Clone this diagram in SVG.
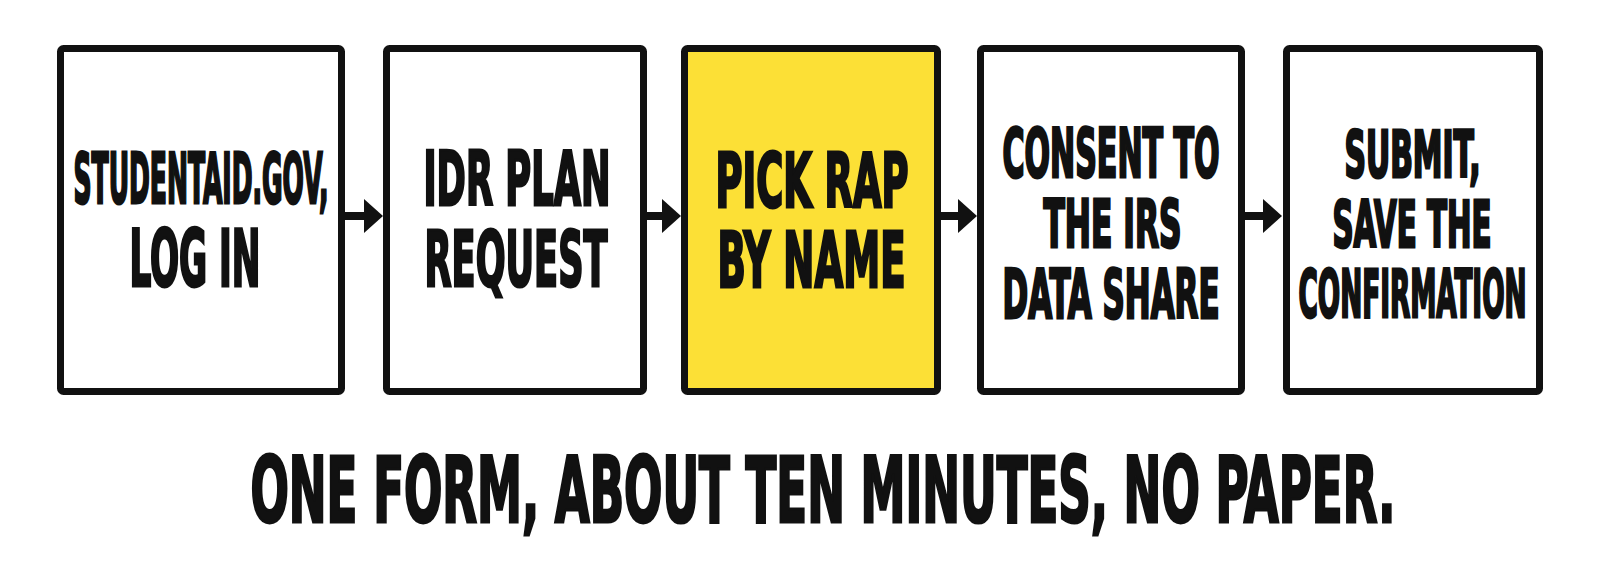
<svg xmlns="http://www.w3.org/2000/svg" width="1600" height="579" viewBox="0 0 1600 579">
  <defs>
    <style>
      .box { fill: #ffffff; stroke: #111111; stroke-width: 7; }
      .hl { fill: #FCE036; }
      .t { font-family: "Liberation Sans Narrow", "DejaVu Sans Condensed", "DejaVu Sans", "Liberation Sans", sans-serif; font-weight: bold; font-stretch: condensed; fill: #111111; stroke: #111111; stroke-width: 3; stroke-linejoin: miter; }
      .conn { stroke: #111111; stroke-width: 8; fill: none; }
    </style>
    <marker id="head" markerUnits="userSpaceOnUse" markerWidth="20" markerHeight="36" refX="1" refY="17" orient="auto" viewBox="0 0 20 34">
      <path d="M0,0 L19,17 L0,34 Z" fill="#111111"/>
    </marker>
  </defs>
  <rect width="1600" height="579" fill="#ffffff"/>

  <g id="connectors">
    <line class="conn" x1="345" y1="216" x2="365" y2="216" marker-end="url(#head)"/>
    <line class="conn" x1="647" y1="216" x2="663" y2="216" marker-end="url(#head)"/>
    <line class="conn" x1="941" y1="216" x2="959" y2="216" marker-end="url(#head)"/>
    <line class="conn" x1="1245" y1="216" x2="1264" y2="216" marker-end="url(#head)"/>
  </g>

  <g id="step1">
    <rect class="box" x="60.5" y="48.5" width="281" height="343" rx="3"/>
    <text class="t" x="73.5" y="202.5" font-size="70" textLength="255" lengthAdjust="spacingAndGlyphs">STUDENTAID.GOV,</text>
    <text class="t" x="129.5" y="285.5" font-size="78.2" textLength="131" lengthAdjust="spacingAndGlyphs">LOG IN</text>
  </g>

  <g id="step2">
    <rect class="box" x="386.5" y="48.5" width="257" height="343" rx="3"/>
    <text class="t" x="423.5" y="204.5" font-size="75" textLength="187" lengthAdjust="spacingAndGlyphs">IDR PLAN</text>
    <text class="t" x="424.5" y="285.5" font-size="76.8" textLength="183" lengthAdjust="spacingAndGlyphs">REQUEST</text>
  </g>

  <g id="step3">
    <rect class="box hl" x="684.5" y="48.5" width="253" height="343" rx="3"/>
    <text class="t" x="715.5" y="206.5" font-size="74" textLength="193" lengthAdjust="spacingAndGlyphs">PICK RAP</text>
    <text class="t" x="717.5" y="286.5" font-size="76" textLength="188" lengthAdjust="spacingAndGlyphs">BY NAME</text>
  </g>

  <g id="step4">
    <rect class="box" x="980.5" y="48.5" width="261" height="343" rx="3"/>
    <text class="t" x="1002.5" y="177" font-size="68" textLength="217" lengthAdjust="spacingAndGlyphs">CONSENT TO</text>
    <text class="t" x="1043.5" y="247" font-size="66" textLength="138" lengthAdjust="spacingAndGlyphs">THE IRS</text>
    <text class="t" x="1002.5" y="318" font-size="67" textLength="217" lengthAdjust="spacingAndGlyphs">DATA SHARE</text>
  </g>

  <g id="step5">
    <rect class="box" x="1286.5" y="48.5" width="253" height="343" rx="3"/>
    <text class="t" x="1344.5" y="177" font-size="64" textLength="136" lengthAdjust="spacingAndGlyphs">SUBMIT,</text>
    <text class="t" x="1332.5" y="247" font-size="64" textLength="159" lengthAdjust="spacingAndGlyphs">SAVE THE</text>
    <text class="t" x="1298.5" y="317" font-size="66" textLength="228" lengthAdjust="spacingAndGlyphs">CONFIRMATION</text>
  </g>

  <g id="caption">
    <text class="t" x="250.5" y="521.5" font-size="90" textLength="1145" lengthAdjust="spacingAndGlyphs">ONE FORM, ABOUT TEN MINUTES, NO PAPER.</text>
  </g>
</svg>
